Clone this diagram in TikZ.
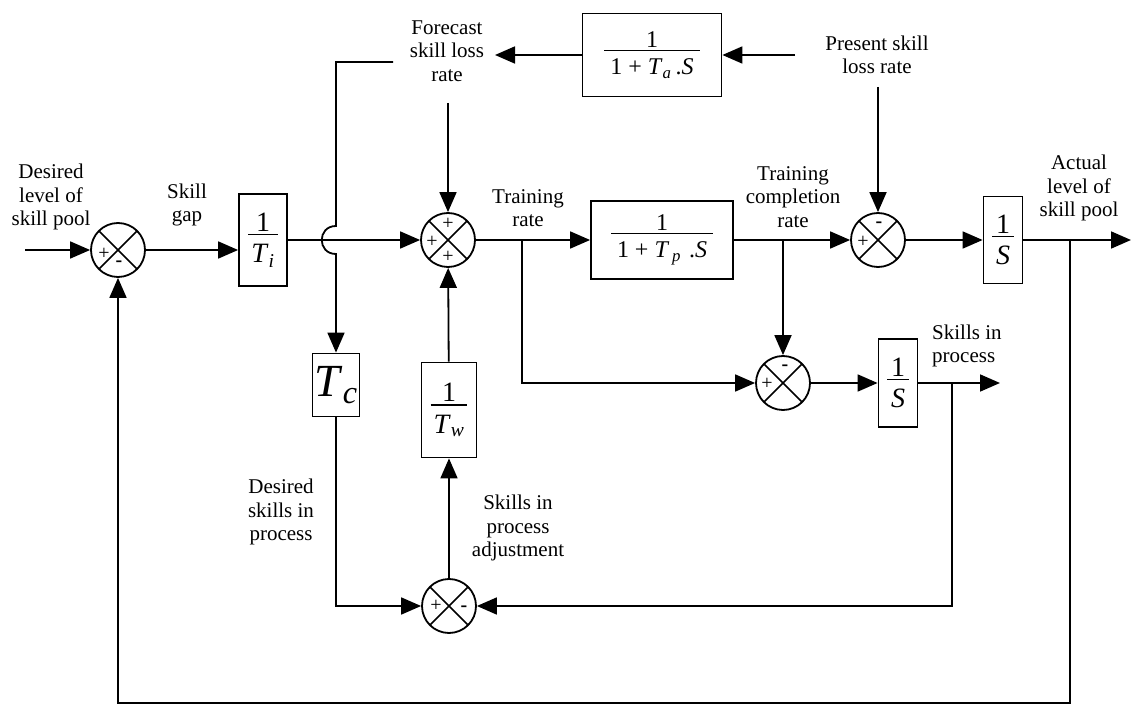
\documentclass[tikz,border=0pt]{standalone}
\usepackage{fontspec}
\setmainfont{Liberation Serif}
\usetikzlibrary{arrows.meta}
\newcommand{\frc}[3][3pt]{{\renewcommand{\arraystretch}{0}\setlength{\arrayrulewidth}{1.4pt}%
\begin{tabular}{@{\hspace{#1}}c@{\hspace{#1}}}#2\rule[-0.1em]{0pt}{0.1em}\\\hline\rule{0pt}{0.98em}#3\end{tabular}}}
\newcommand{\itsub}[2]{\textit{#1}\textsubscript{\textit{#2}}}
\tikzset{
  ln/.style={line width=1.8pt},
  sig/.style={line width=1.8pt, -{Triangle[length=20pt,width=17pt]}},
  blk/.style={draw, line width=1.8pt, rectangle, inner sep=0pt, align=center},
  sumj/.style={draw, circle, line width=1.8pt, minimum size=54pt, inner sep=0pt,
    path picture={\draw[line width=1.6pt] (path picture bounding box.north west) -- (path picture bounding box.south east)
      (path picture bounding box.north east) -- (path picture bounding box.south west);}},
  lbl/.style={align=center, font=\fontsize{21}{23.5}\selectfont, inner sep=0pt},
  sgn/.style={font=\fontsize{20}{20}\selectfont, inner sep=0pt},
  bigf/.style={font=\fontsize{28}{30}\selectfont},
  medf/.style={font=\fontsize{24}{26}\selectfont},
}
\begin{document}
\begin{tikzpicture}[x=1pt,y=-1pt]
\useasboundingbox[fill=white] (0,0) rectangle (1133,708);

% junctions
\node[sumj] (s1) at (118,250) {};
\node[sumj] (s2) at (448,240) {};
\node[sumj] (s3) at (783,383) {};
\node[sumj] (s4) at (878,240) {};
\node[sumj] (s5) at (449,606) {};

% signs
\node[sgn] (s1p) at ([shift={(-14,4)}]s1.center) {+};
\node[sgn] (s1m) at ([shift={(1,14)}]s1.center) {\textbf{-}};
\node[sgn] (s2t) at ([shift={(0,-16)}]s2.center) {+};
\node[sgn] (s2l) at ([shift={(-16,2)}]s2.center) {+};
\node[sgn] (s2b) at ([shift={(0,17)}]s2.center) {+};
\node[sgn] (s3p) at ([shift={(-16,1)}]s3.center) {+};
\node[sgn] (s3m) at ([shift={(2,-15)}]s3.center) {\textbf{-}};
\node[sgn] (s4p) at ([shift={(-15,2)}]s4.center) {+};
\node[sgn] (s4m) at ([shift={(1,-15)}]s4.center) {\textbf{-}};
\node[sgn] (s5p) at ([shift={(-13,0)}]s5.center) {+};
\node[sgn] (s5m) at ([shift={(15,3)}]s5.center) {\textbf{-}};

% blocks
\node[blk, bigf, minimum width=48pt, minimum height=92pt] (ti) at (263,240) {\frc{1}{\itsub{T}{i}}};
\node[blk, medf, minimum width=142pt, minimum height=78pt] (tp) at (662,240) {\frc[6pt]{1}{1 + \itsub{T}{\,p}\,\,.\textit{S}}};
\node[blk, medf, minimum width=139pt, minimum height=83pt] (ta) at (652,55) {\frc[6pt]{1}{1 + \itsub{T}{a}\,.\textit{S}}};
\node[blk, bigf, minimum width=39pt, minimum height=87pt] (sa) at (1003,240) {\frc[4pt]{1}{\textit{S}}};
\node[blk, bigf, minimum width=39pt, minimum height=88pt] (sb) at (898,383) {\frc[4pt]{1}{\textit{S}}};
\node[blk, bigf, minimum width=55pt, minimum height=95pt] (tw) at (449,410) {\frc{1}{\itsub{T}{w}}};
\node[blk, font=\fontsize{46}{48}\selectfont, minimum width=47pt, minimum height=63pt] (tc) at (336,385) {\itsub{T}{c}};

% labels
\node[lbl] (l1) at (51,197) {Desired\\level of\\skill pool};
\node[lbl] (l2) at (187,205) {Skill\\gap};
\node[lbl] (l3) at (447,51) {Forecast\\skill loss\\rate};
\node[lbl] (l4) at (877,55) {Present skill\\loss rate};
\node[lbl] (l5) at (528,208) {Training\\rate};
\node[lbl] (l6) at (793,197) {Training\\completion\\rate};
\node[lbl] (l7) at (1079,188) {Actual\\level of\\skill pool};
\node[lbl, align=left, anchor=west] (l8) at (932,346) {Skills in\\process};
\node[lbl] (l9) at (281,512) {Desired\\skills in\\process};
\node[lbl] (l10) at (518,528) {Skills in\\process\\adjustment};

% coordinates
\coordinate (in) at (25,250);
\coordinate (out) at (1131,240);
\coordinate (br) at (1070,240);
\coordinate (bot) at (118,703);
\coordinate (tr) at (522,240);
\coordinate (tcr) at (783,240);
\coordinate (o2) at (1000,383);
\coordinate (sbr) at (952,383);
\coordinate (fcl) at (393,62);
\coordinate (fcc) at (336,62);
\coordinate (hopa) at (336,226);
\coordinate (hopb) at (336,254);
\coordinate (fcb) at (448,103);
\coordinate (fcr) at (495,55);
\coordinate (psr) at (795,55);
\coordinate (psb) at (878,87);

% connectors
\draw[sig] (in) -- (s1);
\draw[sig] (s1) -- (s1 -| ti.west);
\draw[sig] (ti.east) -- (s2);
\draw[sig] (s2) -- (tp);
\draw[sig] (tp) -- (s4);
\draw[sig] (s4) -- (sa);
\draw[sig] (sa) -- (out);
\draw[sig] (br) |- (bot) -- (s1);
\draw[sig] (tr) |- (s3);
\draw[sig] (tcr) -- (s3);
\draw[sig] (s3) -- (sb);
\draw[sig] (sb) -- (o2);
\draw[sig] (sbr) |- (s5);
\draw[sig] (tc) |- (s5);
\draw[sig] (s5) -- (tw);
\draw[sig] (tw) -- (s2);
\draw[sig] (fcb) -- (s2);
\draw[sig] (fcl) -- (fcc) -- (hopa) .. controls (317,226) and (317,254) .. (hopb) -- (tc);
\draw[sig] (ta) -- (fcr);
\draw[sig] (psr) -- (ta);
\draw[sig] (psb) -- (s4);
\end{tikzpicture}
\end{document}
